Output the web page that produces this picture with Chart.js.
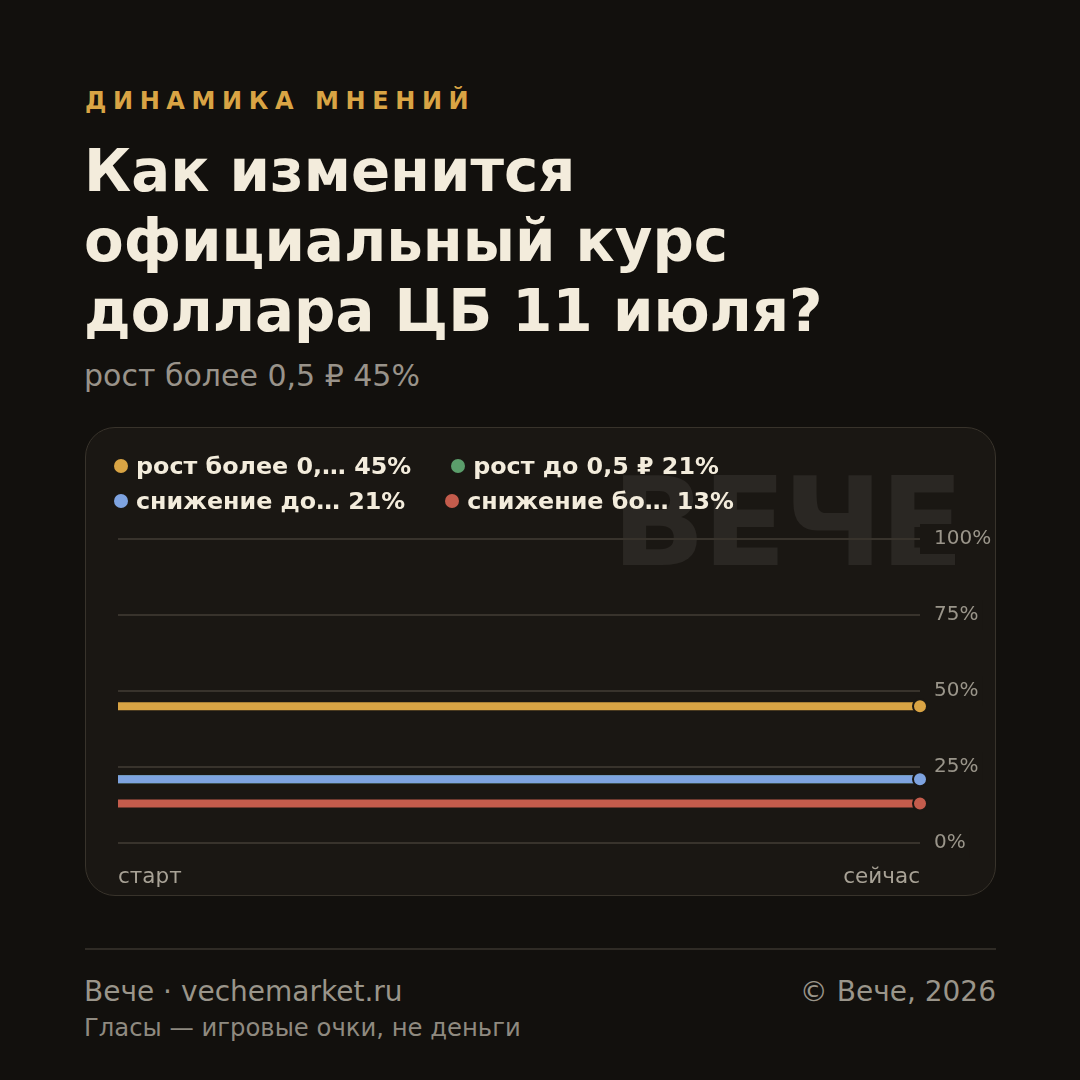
<!DOCTYPE html>
<html>
<head>
<meta charset="utf-8">
<script src="https://cdn.jsdelivr.net/npm/chart.js@4.4.1/dist/chart.umd.min.js"></script>
<style>
  html, body { margin: 0; padding: 0; }
  body {
    width: 1080px; height: 1080px; background: #12100d; position: relative;
    font-family: "DejaVu Sans", sans-serif; overflow: hidden;
  }
  .kicker {
    position: absolute; left: 85px; top: 87px; color: #d9a444;
    font-weight: bold; font-size: 24px; letter-spacing: 6.6px;
  }
  .title {
    position: absolute; left: 84px; top: 136px; color: #f3ecdc;
    font-weight: bold; font-size: 57.8px; line-height: 70px;
  }
  .sub {
    position: absolute; left: 84px; top: 358px; color: #99938a; font-size: 30px;
  }
  .card {
    position: absolute; left: 85px; top: 427px; width: 909px; height: 467px;
    background: #1a1713; border: 1px solid #38332b; border-radius: 30px;
  }
  .mark {
    position: absolute; right: 34px; top: 24px; color: #2a2723;
    font-weight: bold; font-size: 123px; letter-spacing: -3px; line-height: 1.15;
  }
  .card canvas { position: absolute; left: 0; top: 0; }
  .legenda {
    position: absolute; left: 28px; top: 24px; width: 800px;
    display: flex; flex-wrap: wrap; column-gap: 40px; row-gap: 7px;
  }
  .item { display: flex; align-items: center; height: 28px; color: #f3ecdc; font-weight: bold; font-size: 23.8px; white-space: nowrap; }
  .bola { width: 14px; height: 14px; border-radius: 50%; margin-right: 8px; }
  .rule { position: absolute; left: 85px; top: 948px; width: 911px; height: 2px; background: #2f2b25; }
  .foot1 { position: absolute; left: 84px; top: 975px; color: #9a958a; font-size: 28px; }
  .foot2 { position: absolute; left: 84px; top: 1013px; color: #8f8a80; font-size: 24.3px; }
  .foot3 { position: absolute; right: 84px; top: 975px; color: #9a958a; font-size: 28px; }
</style>
</head>
<body>
<div class="kicker">ДИНАМИКА МНЕНИЙ</div>
<div class="title">Как изменится<br>официальный курс<br>доллара ЦБ 11 июля?</div>
<div class="sub">рост более 0,5 ₽ 45%</div>
<div class="card">
  <div class="mark">ВЕЧЕ</div>
  <canvas id="grafico" width="909" height="467"></canvas>
  <div class="legenda" id="legenda"></div>
</div>
<div class="rule"></div>
<div class="foot1">Вече · vechemarket.ru</div>
<div class="foot2">Гласы — игровые очки, не деньги</div>
<div class="foot3">© Вече, 2026</div>

<script>
// dados do gráfico
const momentos = ['старт', 'сейчас'];
const opcoesNomes = ['рост более 0,5 ₽', 'рост до 0,5 ₽', 'снижение до 0,5 ₽', 'снижение более 0,5 ₽'];
const legendaTextos = ['рост более 0,… 45%', 'рост до 0,5 ₽ 21%', 'снижение до… 21%', 'снижение бо… 13%'];
const rostMais = [45, 45];
const rostAte = [21, 21];
const quedaAte = [21, 21];
const quedaMais = [13, 13];
const cores = ['#d9a444', '#5b9e6b', '#7ea3e0', '#c45c4c'];
const ticksY = [0, 25, 50, 75, 100];

const series = [rostMais, rostAte, quedaAte, quedaMais];
// verde fica por baixo do azul
const ordens = [0, 1, 0, 0];

// legenda em html
const legenda = document.getElementById('legenda');
legendaTextos.forEach(function (texto, i) {
    legenda.innerHTML += `<div class="item"><span class="bola" style="background:${cores[i]}"></span>${texto}</div>`;
});

const datasets = series.map(function (valores, i) {
    return {
        label: opcoesNomes[i],
        data: valores,
        borderColor: cores[i],
        backgroundColor: cores[i],
        borderWidth: 8,
        pointRadius: [0, 7],
        pointHoverRadius: [0, 7],
        pointBorderColor: '#1a1713',
        pointBorderWidth: 2,
        pointBackgroundColor: cores[i],
        tension: 0,
        order: ordens[i]
    };
});

let myChart = new Chart(document.getElementById('grafico'), {
    type: 'line',
    data: { labels: momentos, datasets: datasets },
    options: {
        responsive: false,
        animation: false,
        layout: { padding: { left: 32, right: 0, top: 111, bottom: 0 } },
        plugins: {
            tooltip: { enabled: false },
            legend: { display: false }
        },
        scales: {
            x: {
                offset: false,
                grid: { display: false },
                border: { display: false },
                afterFit: function (scale) { scale.height = 52; },
                ticks: {
                    color: '#a8a296',
                    font: { family: 'DejaVu Sans', size: 21.5 },
                    align: 'inner',
                    maxRotation: 0,
                    padding: 14
                }
            },
            y: {
                position: 'right',
                min: 0,
                max: 100,
                afterBuildTicks: function (axis) {
                    axis.ticks = ticksY.map(function (v) { return { value: v }; });
                },
                afterFit: function (scale) { scale.width = 75; },
                grid: { color: '#38332c', lineWidth: 2, drawTicks: false },
                border: { display: false },
                ticks: {
                    color: '#9a958a',
                    font: { family: 'DejaVu Sans', size: 20 },
                    padding: 14,
                    showLabelBackdrop: true,
                    backdropColor: '#1a1713',
                    backdropPadding: { top: 3, bottom: 3, left: 20, right: 4 },
                    callback: function (v) { return v + '%'; }
                }
            }
        }
    }
});
</script>
</body>
</html>
